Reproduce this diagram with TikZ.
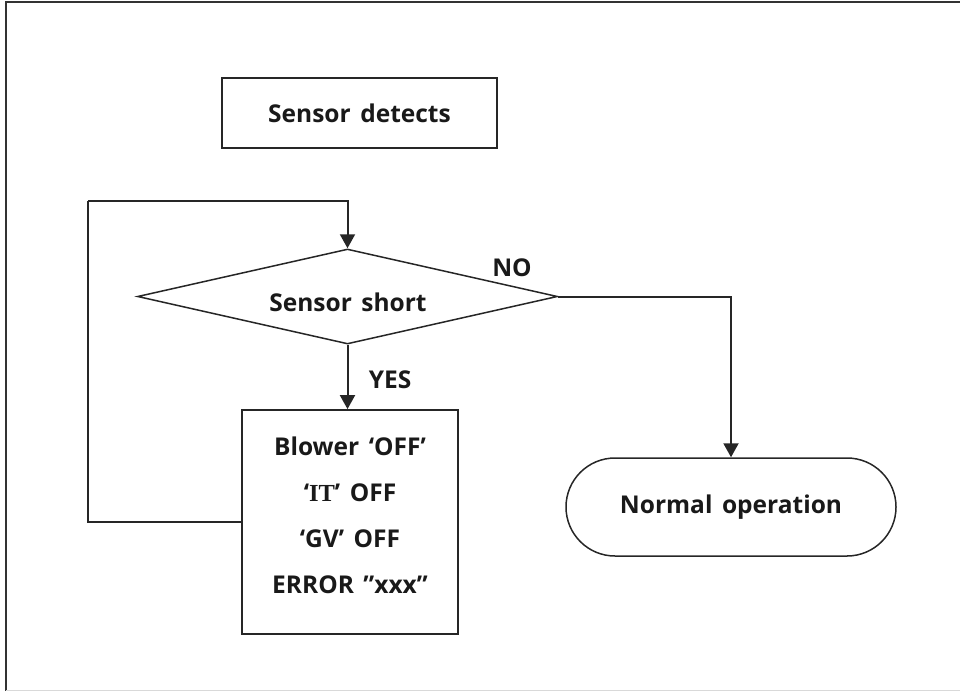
\documentclass[tikz,border=0pt]{standalone}
\usepackage{fontspec}
\setmainfont{Open Sans}[WordSpace=1.5]
\newfontfamily\serifit{Liberation Serif}
\usetikzlibrary{arrows.meta,shapes.geometric}
\begin{document}
\begin{tikzpicture}[x=1pt,y=-1pt,
  every node/.style={font=\fontsize{24.5}{46}\selectfont\bfseries, text=black!90},
  boxst/.style={draw=black!85, line width=1.8pt, rectangle, inner sep=0pt},
  decst/.style={draw=black!85, line width=1.5pt, diamond, aspect=4.42, inner sep=0pt},
  termst/.style={draw=black!85, line width=1.5pt, rectangle, rounded corners=49pt, inner sep=0pt},
  conn/.style={draw=black!85, line width=2pt, -{Triangle[length=14pt,width=15pt]}},
  plain/.style={draw=black!85, line width=2pt}]
\useasboundingbox (0,0) rectangle (960,691);
% frame
\draw[black!80, line width=2pt] (960,2) -- (6,2) -- (6,691);
\draw[black!15, line width=1pt] (6,690) -- (960,690);
% nodes
\node[boxst, minimum width=275pt, minimum height=70pt] (detect) at (359.5,113) {Sensor detects};
\node[decst, minimum width=420pt, minimum height=95pt] (diam) at (347.5,296.5) {};
\node[inner sep=0pt] (diamtext) at (348,302) {Sensor short};
\node[boxst, minimum width=216pt, minimum height=224pt] (act) at (350,522) {};
\node[align=center, inner sep=0pt] (acttext) at (350,515) {Blower ‘OFF’\\‘{\serifit IT}’ OFF\\‘GV’ OFF\\ERROR ”xxx”};
\node[termst, minimum width=330pt, minimum height=98pt] (term) at (731,507) {Normal operation};
\node (yes) at (390,380) {YES};
\node (no) at (512,268) {NO};
\coordinate (lc) at (88,201);
% connectors
\draw[conn] (diam.south) -- (diam.south |- act.north);
\draw[plain] (act.west) -| (lc);
\draw[conn] (lc) -| (diam.north);
\draw[conn] (diam.east) -| (term.north);
\end{tikzpicture}
\end{document}
